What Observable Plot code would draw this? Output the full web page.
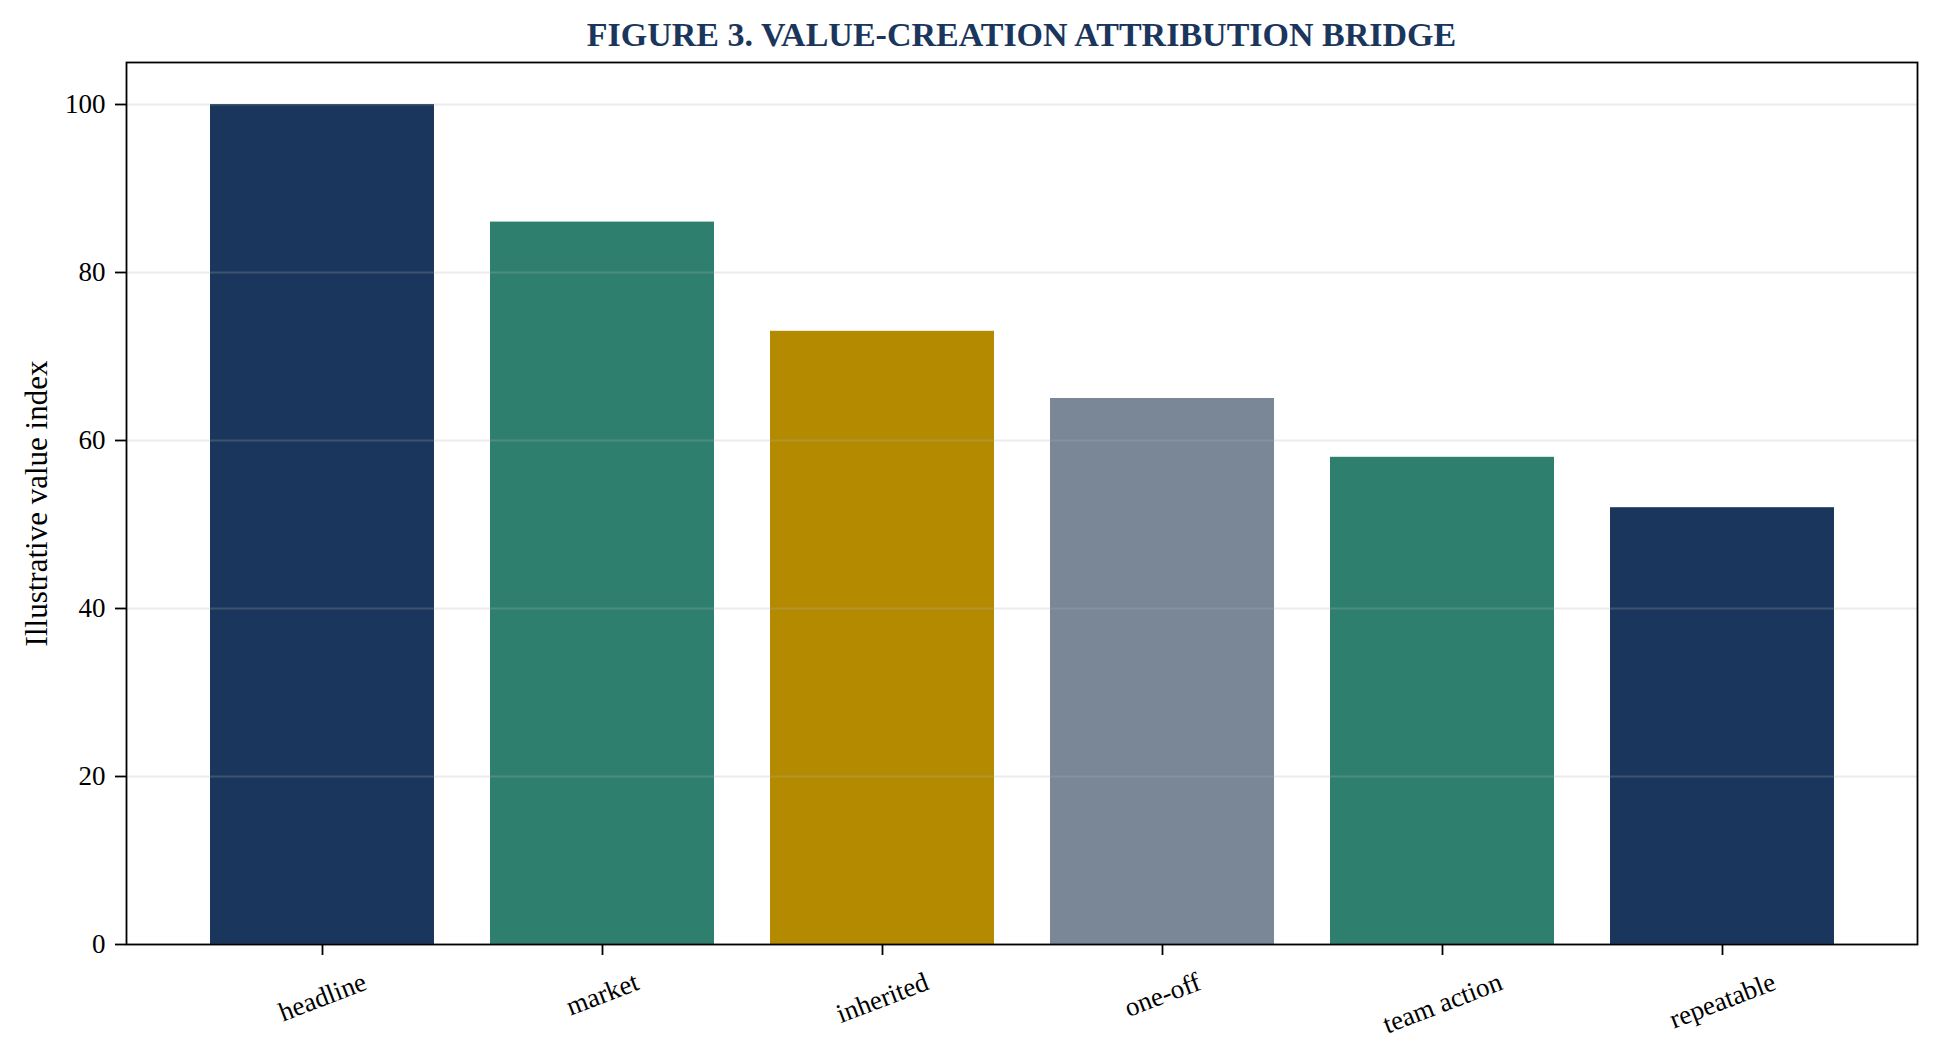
<!DOCTYPE html>
<html>
<head>
<meta charset="utf-8">
<script src="https://cdn.jsdelivr.net/npm/d3@7"></script>
<script src="https://cdn.jsdelivr.net/npm/@observablehq/plot@0.6"></script>
<style>
  html, body { margin: 0; padding: 0; background: #fff; overflow: hidden; }
  #title {
    width: 1938px; height: 56px; box-sizing: border-box;
    padding-left: 126px; padding-right: 21px; padding-top: 8px;
    text-align: center; line-height: 54px;
    font-family: "Liberation Serif", "DejaVu Serif", serif;
    font-weight: bold; font-size: 34px; color: #1a365d;
  }
  #chart svg { display: block; }
</style>
</head>
<body>
<div id="title">FIGURE 3. VALUE-CREATION ATTRIBUTION BRIDGE</div>
<div id="chart"></div>
<script>
const categories = ["headline", "market", "inherited", "one-off", "team action", "repeatable"];
const values = [100, 86, 73, 65, 58, 52];
const barColors = ["#1a365d", "#2f7f6f", "#b38a00", "#7a8797", "#2f7f6f", "#1a365d"];
const yTicks = [0, 20, 40, 60, 80, 100];
const yLabel = "Illustrative value index";

const rows = categories.map((c, i) => ({category: c, value: values[i], color: barColors[i]}));

const FONT = "Liberation Serif";
const tickFont = 27;
const rot = 21;
const ctx = document.createElement("canvas").getContext("2d");
ctx.font = `${tickFont}px "${FONT}"`;
const ang = rot * Math.PI / 180;

const labelMarks = categories.map(c => {
  const w = ctx.measureText(c).width;
  const H = w * Math.sin(ang) + tickFont * 0.9 * Math.cos(ang);
  return Plot.text([c], {
    x: d => d, frameAnchor: "bottom", dy: 25 + H / 2,
    rotate: -rot, textAnchor: "middle", lineAnchor: "middle",
    fontSize: tickFont, fill: "black"
  });
});

const chart = Plot.plot({
  width: 1938,
  height: 990,
  marginTop: 6,
  marginBottom: 102,
  marginLeft: 126,
  marginRight: 21,
  style: {fontFamily: FONT, background: "white", color: "black"},
  x: {type: "band", domain: categories, paddingInner: 0.2, paddingOuter: 0.29, axis: null},
  y: {domain: [0, 105], axis: null},
  marks: [
    Plot.barY(rows, {x: "category", y: "value", fill: "color", inset: 0}),
    Plot.gridY(yTicks, {stroke: "#b0b0b0", strokeOpacity: 0.25, strokeWidth: 2}),
    Plot.axisY({ticks: yTicks, tickSize: 11, tickPadding: 10, fontSize: tickFont, label: null, strokeWidth: 1.8}),
    Plot.axisX({tickSize: 11, tickFormat: () => "", strokeWidth: 1.8, label: null}),
    ...labelMarks,
    Plot.text([yLabel], {frameAnchor: "left", dx: -89, rotate: -90, textAnchor: "middle", fontSize: 31, fill: "black", text: d => d}),
    Plot.frame({stroke: "black", strokeWidth: 1.8})
  ]
});
document.getElementById("chart").appendChild(chart);
</script>
</body>
</html>
